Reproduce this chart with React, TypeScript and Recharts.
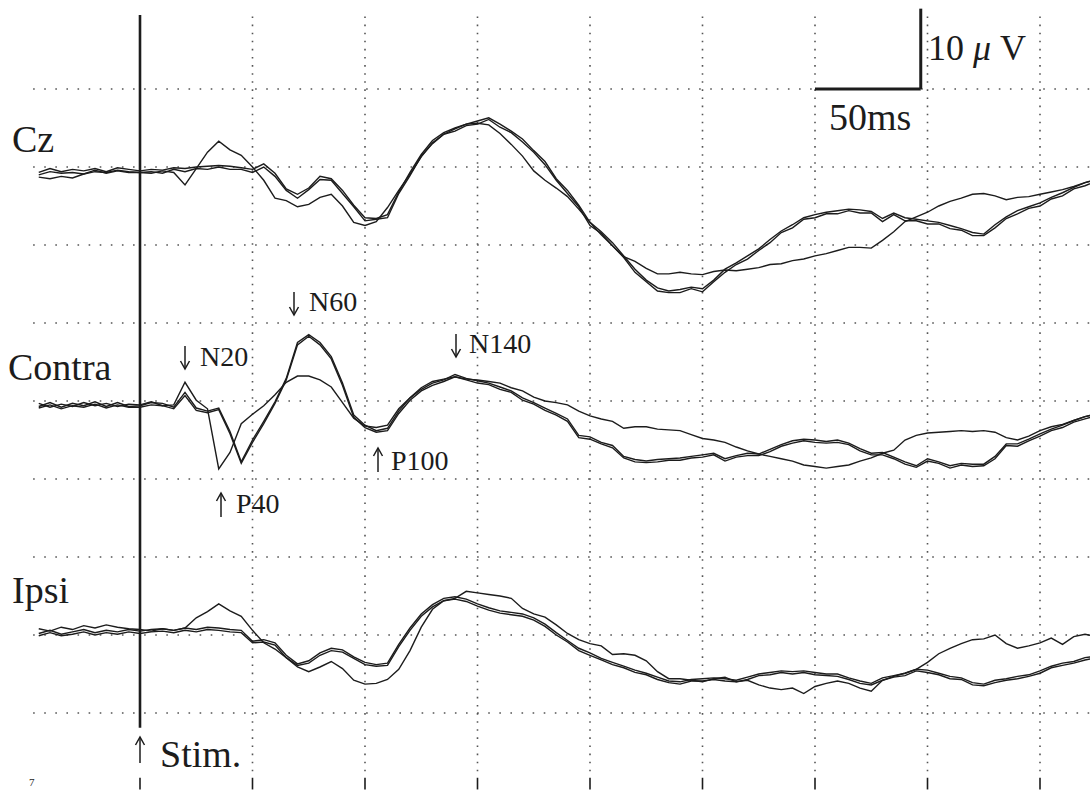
import { LineChart, Line, XAxis, YAxis, ReferenceLine } from "recharts";

// time after stimulus, ms
const times = [
  -45, -40, -35, -30, -25, -20, -15, -10, -5,
  0, 5, 10, 15, 20, 25, 30, 35, 40, 45,
  50, 55, 60, 65, 70, 75, 80, 85, 90, 95,
  100, 105, 110, 115, 120, 125, 130, 135, 140, 145,
  150, 155, 160, 165, 170, 175, 180, 185, 190, 195,
  200, 205, 210, 215, 220, 225, 230, 235, 240, 245,
  250, 255, 260, 265, 270, 275, 280, 285, 290, 295,
  300, 305, 310, 315, 320, 325, 330, 335, 340, 345,
  350, 355, 360, 365, 370, 375, 380, 385, 390, 395,
  400, 405, 410, 415, 420, 425,
];

// µV, negative up (three averaged runs per channel)
const czA = [
  0.2, -0.3, 0.1, -0.2, 0.0, -0.3, 0.1, -0.4, -0.2,
  0.0, -0.2, -0.1, -0.4, -0.3, -0.5, -0.6, -0.7, -0.6, -0.4,
  -0.2, -0.9, 0.3, 2.3, 3.0, 2.2, 0.7, 1.0, 2.5, 4.4,
  6.0, 6.1, 5.6, 2.7, 0.2, -2.1, -3.9, -4.9, -5.5, -6.0,
  -6.4, -6.8, -6.0, -5.1, -4.1, -2.6, -1.2, 1.0, 2.5, 4.4,
  6.6, 7.8, 9.2, 10.9, 12.6, 14.0, 15.0, 15.4, 15.2, 14.9,
  15.1, 14.0, 12.6, 11.8, 10.9, 10.0, 8.8, 7.7, 6.9, 6.0,
  5.6, 5.3, 5.1, 4.9, 5.0, 5.2, 6.1, 5.4, 6.0, 6.2,
  6.4, 6.6, 7.0, 7.4, 7.9, 8.1, 6.9, 5.9, 5.1, 4.6,
  4.1, 3.4, 2.8, 2.1, 1.5, 1.1,
];
const czB = [
  0.5, 0.1, 0.3, 0.2, 0.4, -0.1, 0.3, 0.0, 0.2,
  0.2, 0.1, 0.3, -0.2, 0.1, -0.3, -0.2, -0.5, -0.2, -0.2,
  0.2, -0.5, 0.7, 2.5, 3.5, 2.4, 1.1, 1.2, 2.9, 4.6,
  6.4, 6.2, 6.0, 2.9, 0.6, -1.9, -3.5, -4.7, -5.1, -5.8,
  -6.0, -6.6, -5.6, -4.9, -3.7, -2.4, -0.8, 1.2, 2.9, 4.6,
  7.0, 8.0, 9.6, 11.1, 13.0, 14.2, 15.4, 15.6, 15.6, 15.1,
  15.5, 14.2, 13.0, 12.0, 11.3, 10.2, 9.2, 7.9, 7.3, 6.2,
  6.0, 5.5, 5.5, 5.1, 5.4, 5.4, 6.5, 5.6, 6.4, 6.4,
  6.8, 6.8, 7.4, 7.6, 8.3, 8.3, 7.3, 6.1, 5.5, 4.8,
  4.5, 3.6, 3.2, 2.3, 1.9, 1.3,
];
const czC = [
  0.8, 1.0, 0.7, 0.9, 0.4, 0.1, 0.2, -0.1, 0.1,
  0.2, 0.3, 0.0, 0.2, 1.8, -0.3, -2.4, -3.8, -2.7, -2.0,
  -0.5, 1.2, 3.5, 3.8, 4.6, 4.3, 3.4, 3.0, 4.5, 6.6,
  7.0, 6.5, 4.7, 2.5, 0.4, -1.8, -3.6, -4.7, -5.4, -6.0,
  -6.1, -5.9, -4.8, -3.4, -1.9, 0.0, 1.2, 2.2, 3.3, 4.9,
  6.6, 8.2, 9.6, 11.0, 11.6, 12.5, 13.2, 13.2, 13.0, 13.2,
  13.3, 12.9, 12.7, 12.8, 12.6, 12.4, 12.0, 11.9, 11.5, 11.3,
  10.9, 10.6, 10.2, 9.8, 9.8, 9.9, 8.9, 7.8, 6.5, 5.9,
  5.3, 4.5, 3.9, 3.5, 3.0, 2.9, 3.2, 3.7, 3.4, 3.3,
  3.0, 2.7, 2.4, 2.0, 1.5, 1.1,
];

const contraA = [
  0.2, -0.3, 0.3, -0.2, 0.1, -0.4, 0.2, -0.3, 0.2,
  0.1, -0.3, -0.2, 0.3, -1.6, 0.4, 0.8, 0.4, 3.4, 7.3,
  4.5, 2.1, -0.4, -3.4, -8.0, -9.0, -8.0, -6.2, -2.8, 1.3,
  2.6, 3.3, 3.0, 0.8, -0.9, -2.0, -2.8, -3.2, -3.9, -3.4,
  -3.1, -2.8, -2.3, -1.8, -0.9, -0.3, 0.4, 1.1, 1.8, 3.9,
  4.1, 4.8, 5.2, 6.6, 7.0, 7.2, 7.0, 6.9, 6.8, 6.6,
  6.4, 6.2, 6.9, 6.5, 6.2, 6.3, 5.7, 5.1, 4.6, 4.4,
  4.5, 4.7, 4.5, 4.9, 5.6, 6.2, 6.1, 6.7, 7.3, 7.8,
  6.9, 7.3, 7.8, 7.5, 7.6, 7.6, 6.6, 5.0, 5.0, 4.4,
  3.7, 3.1, 2.6, 2.0, 1.5, 1.2,
];
const contraB = [
  0.4, 0.0, 0.5, 0.1, 0.3, -0.1, 0.4, 0.0, 0.3,
  0.3, 0.0, 0.1, 0.5, -1.2, 0.7, 1.0, 0.6, 3.7, 7.5,
  4.8, 2.4, -0.2, -3.2, -7.7, -8.8, -7.7, -5.9, -2.5, 1.6,
  2.9, 3.5, 3.3, 1.1, -0.6, -1.8, -2.5, -3.0, -3.6, -3.2,
  -2.8, -2.6, -2.0, -1.6, -0.6, -0.1, 0.7, 1.3, 2.1, 4.2,
  4.4, 5.0, 5.5, 6.8, 7.3, 7.4, 7.3, 7.1, 7.1, 6.8,
  6.7, 6.4, 7.2, 6.7, 6.5, 6.5, 6.0, 5.3, 4.9, 4.6,
  4.8, 4.9, 4.8, 5.1, 5.9, 6.4, 6.4, 6.9, 7.6, 8.0,
  7.2, 7.5, 8.1, 7.7, 7.9, 7.8, 6.9, 5.2, 5.3, 4.6,
  4.0, 3.3, 2.9, 2.2, 1.8, 1.4,
];
const contraC = [
  -0.2, 0.3, -0.1, 0.2, -0.3, 0.1, -0.2, 0.2, -0.1,
  0.0, -0.4, 0.1, 0.0, -2.9, -0.6, 0.5, 8.2, 6.1, 2.4,
  1.2, 0.1, -1.3, -2.9, -3.7, -3.7, -3.2, -2.3, -0.3, 1.7,
  2.7, 2.9, 2.6, 0.5, -0.9, -2.2, -3.0, -3.3, -3.6, -3.3,
  -3.2, -3.0, -2.8, -2.2, -1.8, -1.0, -0.5, -0.3, 0.0, 0.8,
  1.4, 1.8, 2.1, 3.0, 2.8, 2.8, 3.1, 3.2, 3.3, 3.8,
  4.3, 4.5, 4.8, 5.4, 5.9, 6.3, 6.6, 6.9, 7.2, 7.7,
  7.9, 8.1, 7.9, 7.7, 7.2, 6.8, 6.2, 5.8, 4.5, 3.9,
  3.6, 3.5, 3.4, 3.3, 3.4, 3.3, 3.5, 4.2, 4.5, 4.0,
  3.3, 2.8, 2.5, 2.0, 1.5, 1.2,
];

const ipsiA = [
  0.2, -0.2, 0.3, 0.0, -0.3, 0.1, -0.2, 0.0, -0.3,
  -0.1, -0.3, -0.4, -0.2, -0.5, -0.3, -0.6, -0.5, -0.3, -0.2,
  1.2, 1.0, 1.4, 3.0, 4.1, 3.7, 2.7, 2.1, 2.3, 3.2,
  3.9, 4.2, 4.0, 1.6, -0.5, -2.3, -3.5, -4.3, -4.5, -4.2,
  -3.6, -3.1, -2.7, -2.5, -2.3, -1.8, -1.0, 0.1, 1.1, 2.1,
  2.7, 3.4, 3.9, 4.4, 4.9, 5.3, 5.8, 6.3, 6.4, 6.1,
  6.0, 5.9, 6.0, 6.2, 5.8, 5.4, 5.2, 5.0, 5.1, 5.0,
  5.2, 5.4, 5.4, 5.9, 6.3, 6.6, 5.9, 5.6, 5.3, 4.8,
  4.9, 5.3, 5.7, 5.9, 6.5, 6.7, 6.2, 6.0, 5.7, 5.5,
  5.0, 4.4, 4.0, 3.8, 3.3, 3.1,
];
const ipsiB = [
  0.5, 0.1, 0.5, 0.3, 0.0, 0.4, 0.1, 0.3, 0.0,
  0.2, 0.0, -0.1, 0.1, -0.2, 0.0, -0.3, -0.2, 0.0, 0.1,
  1.4, 1.3, 1.7, 3.3, 4.3, 4.0, 3.0, 2.4, 2.6, 3.4,
  4.2, 4.4, 4.3, 1.9, -0.2, -2.0, -3.2, -4.0, -4.2, -3.9,
  -3.3, -2.8, -2.4, -2.2, -2.0, -1.5, -0.7, 0.4, 1.3, 2.4,
  3.0, 3.6, 4.2, 4.6, 5.2, 5.5, 6.1, 6.5, 6.7, 6.3,
  6.3, 6.1, 6.3, 6.4, 6.1, 5.6, 5.5, 5.2, 5.4, 5.2,
  5.5, 5.6, 5.7, 6.1, 6.6, 6.8, 6.2, 5.8, 5.6, 5.0,
  5.2, 5.5, 6.0, 6.1, 6.8, 6.9, 6.5, 6.2, 6.0, 5.7,
  5.3, 4.6, 4.3, 4.0, 3.6, 3.3,
];
const ipsiC = [
  -0.4, -0.1, -0.6, -0.3, -0.8, -0.5, -0.9, -0.6, -0.4,
  -0.3, -0.1, -0.4, -0.2, -0.5, -1.8, -2.6, -3.6, -2.7, -2.0,
  -0.2, 1.4, 2.2, 3.3, 4.5, 5.1, 4.5, 3.8, 4.7, 6.2,
  6.7, 6.6, 6.1, 4.8, 2.4, -0.6, -2.9, -4.0, -4.3, -5.2,
  -5.0, -4.8, -4.6, -4.3, -3.0, -2.3, -1.9, -0.9, 0.2, 1.0,
  1.5, 1.8, 2.9, 2.8, 3.0, 3.7, 5.1, 6.0, 6.0, 6.2,
  6.4, 6.0, 5.8, 6.4, 6.2, 6.8, 7.2, 7.4, 7.2, 7.9,
  7.0, 6.6, 6.3, 6.6, 7.2, 7.6, 6.2, 5.7, 5.3, 4.8,
  3.9, 2.8, 2.1, 1.5, 1.0, 0.9, 0.4, 1.5, 2.1, 1.8,
  1.4, 0.8, 1.6, 0.6, 0.3, 0.6,
];

// channel baselines on the stacked display (10 µV per grid row)
const CZ_BASE = 10.5;
const CONTRA_BASE = 40.5;
const IPSI_BASE = 69.6;

const gridRows = [0, 10, 20, 30, 40, 50, 60, 70, 80];
const gridCols = [50, 100, 150, 200, 250, 300, 350, 400];
const bottomTicks = [0, 50, 100, 150, 200, 250, 300, 350, 400];

const seriesKeys = ["czA", "czB", "czC", "contraA", "contraB", "contraC", "ipsiA", "ipsiB", "ipsiC"];

const rows = times.map((t, i) => ({
  t,
  czA: CZ_BASE + czA[i],
  czB: CZ_BASE + czB[i],
  czC: CZ_BASE + czC[i],
  contraA: CONTRA_BASE + contraA[i],
  contraB: CONTRA_BASE + contraB[i],
  contraC: CONTRA_BASE + contraC[i],
  ipsiA: IPSI_BASE + ipsiA[i],
  ipsiB: IPSI_BASE + ipsiB[i],
  ipsiC: IPSI_BASE + ipsiC[i],
}));

const W = 1090;
const H = 790;
const ink = "#1c1c1c";
const serif = "'Liberation Serif', 'Times New Roman', serif";

// thin annotation arrow; tip at y2
function Arrow({ x, y1, y2 }: { x: number; y1: number; y2: number }) {
  const dir = y2 > y1 ? -1 : 1;
  return (
    <g stroke={ink} strokeWidth={1.5} fill="none">
      <line x1={x} y1={y1} x2={x} y2={y2} />
      <polyline points={`${x - 4.5},${y2 + dir * 8} ${x},${y2} ${x + 4.5},${y2 + dir * 8}`} />
    </g>
  );
}

export default function App() {
  return (
    <div style={{ position: "absolute", left: 0, top: 0, width: W, height: H, background: "#fff" }}>
      <LineChart width={W} height={H} data={rows} margin={{ top: 0, right: 0, bottom: 0, left: 0 }}>
        <XAxis dataKey="t" type="number" domain={[-62.22, 422.22]} allowDataOverflow hide />
        <YAxis type="number" domain={[-11.41, 89.87]} reversed allowDataOverflow hide />

        {gridRows.map((v) => (
          <ReferenceLine
            key={"r" + v}
            segment={[{ x: -47.5, y: v }, { x: 422, y: v }]}
            stroke="#555"
            strokeWidth={1.6}
            strokeDasharray="1.6 9.5"
            ifOverflow="visible"
          />
        ))}
        {gridCols.map((ms) => (
          <ReferenceLine
            key={"c" + ms}
            segment={[{ x: ms, y: -9.3 }, { x: ms, y: 88.2 }]}
            stroke="#555"
            strokeWidth={1.6}
            strokeDasharray="1.6 6.5"
            ifOverflow="visible"
          />
        ))}
        {bottomTicks.map((ms) => (
          <ReferenceLine
            key={"b" + ms}
            segment={[{ x: ms, y: 88.3 }, { x: ms, y: 89.8 }]}
            stroke={ink}
            strokeWidth={1.6}
            ifOverflow="visible"
          />
        ))}

        {/* stimulus marker */}
        <ReferenceLine
          segment={[{ x: 0, y: -9.5 }, { x: 0, y: 81.9 }]}
          stroke={ink}
          strokeWidth={2.6}
          ifOverflow="visible"
        />

        {/* calibration: 10 µV / 50 ms */}
        <ReferenceLine segment={[{ x: 347, y: -10.3 }, { x: 347, y: 0 }]} stroke={ink} strokeWidth={3} ifOverflow="visible" />
        <ReferenceLine segment={[{ x: 300, y: 0 }, { x: 347, y: 0 }]} stroke={ink} strokeWidth={3} ifOverflow="visible" />

        {seriesKeys.map((k) => (
          <Line
            key={k}
            dataKey={k}
            type="linear"
            stroke={ink}
            strokeWidth={1.4}
            dot={false}
            activeDot={false}
            isAnimationActive={false}
          />
        ))}
      </LineChart>

      <svg
        width={W}
        height={H}
        style={{ position: "absolute", left: 0, top: 0, pointerEvents: "none" }}
        fontFamily={serif}
        fill={ink}
      >
        <text x={12} y={152} fontSize={38}>Cz</text>
        <text x={8} y={380} fontSize={38}>Contra</text>
        <text x={12} y={603} fontSize={38}>Ipsi</text>

        <text x={928} y={60} fontSize={36}>
          10 <tspan fontStyle="italic">μ</tspan> V
        </text>
        <text x={829} y={130} fontSize={38}>50ms</text>

        <Arrow x={294} y1={292} y2={315} />
        <text x={309} y={311} fontSize={28}>N60</text>
        <Arrow x={185} y1={346} y2={369} />
        <text x={200} y={366} fontSize={28}>N20</text>
        <Arrow x={456} y1={334} y2={357} />
        <text x={469} y={353} fontSize={28}>N140</text>
        <Arrow x={378} y1={472} y2={448} />
        <text x={391} y={470} fontSize={28}>P100</text>
        <Arrow x={221} y1={517} y2={493} />
        <text x={236} y={513} fontSize={28}>P40</text>
        <Arrow x={140} y1={763} y2={737} />
        <text x={160} y={767} fontSize={38}>Stim.</text>
        <text x={29} y={786} fontSize={11}>7</text>
      </svg>
    </div>
  );
}
